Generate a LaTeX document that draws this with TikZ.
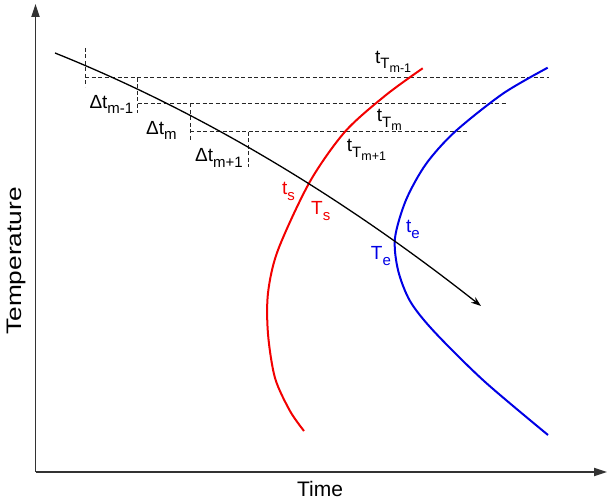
\documentclass[tikz,border=0pt]{standalone}
\usepackage{fontspec}
\setmainfont{Liberation Sans}
\usetikzlibrary{arrows.meta, positioning}

% subscript helpers (text font, no math)
\newcommand{\lsub}[1]{\raisebox{-0.3em}{\fontsize{15}{15}\selectfont #1}}
\newcommand{\llsub}[1]{\raisebox{-0.22em}{\fontsize{12.5}{12.5}\selectfont #1}}

\begin{document}
\begin{tikzpicture}[x=1pt, y=-1pt,
  axis/.style={line width=1.8pt, draw=black!80,
               -{Triangle[length=13pt, width=8pt]}},
  cool/.style={line width=1.3pt, black,
               -{Stealth[length=10pt, width=7pt]}},
  grid/.style={line width=0.7pt, black!85, dash pattern=on 4pt off 2.5pt},
  sline/.style={line width=2pt, red!95!black},
  eline/.style={line width=2pt, blue!90!black},
  lbl/.style={font=\fontsize{19}{19}\selectfont, inner sep=0pt,
              anchor=base west},
  axlbl/.style={font=\fontsize{21}{21}\selectfont, inner sep=0pt},
]
\useasboundingbox (0,0) rectangle (607,502);

% --- Axes ---
\coordinate (O)    at (35.5, 472);
\coordinate (Ytop) at (35.5,   4);
\coordinate (Xend) at (607,  472);
\draw[axis] (O) -- (Ytop);
\draw[axis] (O) -- (Xend);
\node[axlbl, anchor=base] (time) at (320, 496.5) {Time};
\node[axlbl, rotate=90, xscale=1.25] (temp) at (16, 261) {Temperature};

% --- Dashed time steps ---
\coordinate (v1a) at ( 85,  48);   \coordinate (v1b) at ( 85,  87);
\coordinate (h1a) at ( 85, 77.7);  \coordinate (h1b) at (549, 77.7);
\coordinate (v2a) at (137.7, 77.7);\coordinate (v2b) at (137.7, 113);
\coordinate (h2a) at (137.7,103.5);\coordinate (h2b) at (507, 103.5);
\coordinate (v3a) at (190, 103.5); \coordinate (v3b) at (190, 140);
\coordinate (h3a) at (190, 131.7); \coordinate (h3b) at (468, 131.7);
\coordinate (v4a) at (248.3,131.7);\coordinate (v4b) at (248.3, 166.7);
\foreach \a/\b in {v1a/v1b, h1a/h1b, v2a/v2b, h2a/h2b,
                   v3a/v3b, h3a/h3b, v4a/v4b}
  \draw[grid] (\a) -- (\b);

% --- Start and end curves ---
\draw[sline] plot[smooth] coordinates {(422.7,68.3) (386,95) (345,131.7)
  (309.7,182) (278,250) (268,293) (268,334) (275,378) (290,411) (304,431)};
\draw[eline] plot[smooth] coordinates {(547.7,67.7) (503,93.6) (455,131.7)
  (426,164) (406,200) (395,238) (398,270) (410,301) (433.6,331)
  (484,381) (548,435)};

% --- Cooling curve ---
\coordinate (cstart) at (55, 53);
\coordinate (cend)   at (481, 306);
\draw[cool] (cstart) .. controls (197,110) and (339,194) .. (cend);

% --- Labels ---
\node[lbl] (dt1) at ( 89.3, 108.3) {Δt\lsub{m-1}};
\node[lbl] (dt2) at (146,   134.3) {Δt\lsub{m}};
\node[lbl] (dt3) at (195,   161.7) {Δt\lsub{m+1}};
\node[lbl] (tt1) at (375,    63.3) {t\lsub{T\llsub{m-1}}};
\node[lbl] (tt2) at (376.7, 121.7) {t\lsub{T\llsub{m}}};
\node[lbl] (tt3) at (346.7, 151.7) {t\lsub{T\llsub{m+1}}};
\node[lbl, red!95!black]  (ts) at (282,   195) {t\lsub{s}};
\node[lbl, red!95!black]  (Ts) at (311,   215) {T\lsub{s}};
\node[lbl, blue!90!black] (te) at (406,   233) {t\lsub{e}};
\node[lbl, blue!90!black] (Te) at (370.7, 260) {T\lsub{e}};
\end{tikzpicture}
\end{document}
